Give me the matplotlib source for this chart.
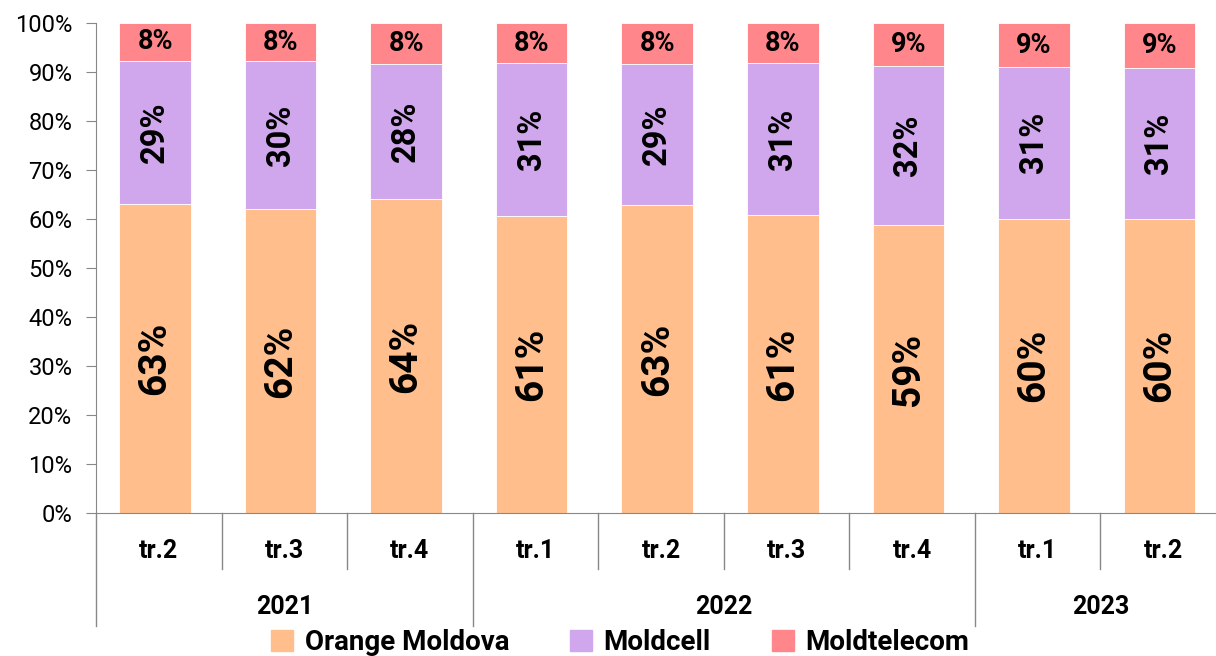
import numpy as np
import matplotlib.pyplot as plt
from matplotlib.patches import Patch
from matplotlib.ticker import PercentFormatter

plt.rcParams['font.family'] = ['Roboto', 'DejaVu Sans']

# data (% share per quarter)
quarters = ['tr.2', 'tr.3', 'tr.4', 'tr.1', 'tr.2', 'tr.3', 'tr.4', 'tr.1', 'tr.2']
years = ['2021', '2022', '2023']
year_sizes = [3, 4, 2]
orange = [63.1, 62.0, 64.1, 60.6, 62.8, 60.8, 58.8, 60.1, 60.1]
moldcell = [29.2, 30.2, 27.6, 31.2, 28.8, 31.0, 32.4, 30.9, 30.8]
moldtelecom = [7.7, 7.8, 8.3, 8.2, 8.4, 8.2, 8.8, 9.0, 9.1]
series = ['Orange Moldova', 'Moldcell', 'Moldtelecom']
colors = ['#FFBE8C', '#D0A6EC', '#FF868A']

W, H = 1216, 656
fig = plt.figure(figsize=(W / 100, H / 100), dpi=100)
# plot area: x from 96 px (spans 9 categories of ~125.6 px), y from 23 to 513 px
ax = fig.add_axes([96 / W, (H - 513) / H, 1130 / W, 490 / H])

x = np.arange(len(quarters)) - 0.03
bottom = np.zeros(len(quarters))
for vals, col, name in zip([orange, moldcell, moldtelecom], colors, series):
    ax.bar(x, vals, width=0.57, bottom=bottom, color=col, edgecolor='white',
           linewidth=0.6, label=name)
    bottom += np.array(vals)

# value labels
for i in range(len(quarters)):
    ax.text(x[i], orange[i] / 2, f'{round(orange[i])}%', rotation=90,
            ha='center', va='center', fontsize=28, fontweight='bold')
    ax.text(x[i], orange[i] + moldcell[i] / 2, f'{round(moldcell[i])}%',
            rotation=90, ha='center', va='center', fontsize=23.5, fontweight='bold')
    ax.text(x[i], orange[i] + moldcell[i] + moldtelecom[i] / 2,
            f'{round(moldtelecom[i])}%', ha='center', va='center',
            fontsize=19.5, fontweight='bold')

ax.set_xlim(-0.5, len(quarters) - 0.5)
ax.set_ylim(0, 100)
ax.set_yticks(np.arange(0, 101, 10))
ax.yaxis.set_major_formatter(PercentFormatter(decimals=0))
ax.tick_params(axis='y', labelsize=17, length=7, color='#888888', pad=10)
ax.set_xticks([])

for side in ['top', 'right']:
    ax.spines[side].set_visible(False)
for side in ['left', 'bottom']:
    ax.spines[side].set_color('#888888')

# two-level category axis
trans = ax.get_xaxis_transform()
q_depth = -(569 - 513) / 490
y_depth = -(626 - 513) / 490
for i, q in enumerate(quarters):
    ax.text(i, -(551 - 513) / 490, q, transform=trans, ha='center',
            va='center', fontsize=18, fontweight='bold')
edges = np.cumsum([0] + year_sizes) - 0.5
for k in range(len(quarters) + 1):
    pos = k - 0.5
    depth = y_depth if pos in edges else q_depth
    ax.plot([pos, pos], [0, depth], transform=trans, color='#888888',
            linewidth=1, clip_on=False)
for yr, a, b in zip(years, edges[:-1], edges[1:]):
    ax.text((a + b) / 2, -(607 - 513) / 490, yr, transform=trans,
            ha='center', va='center', fontsize=18, fontweight='bold')

handles = [Patch(color=c, label=s) for c, s in zip(colors, series)]
fig.legend(handles=handles, loc='center', bbox_to_anchor=(0.51, (H - 643) / H),
           ncol=3, frameon=False, prop={'size': 20, 'weight': 'bold'},
           handlelength=0.8, handleheight=0.8, handletextpad=0.4,
           columnspacing=2.2, borderaxespad=0)

fig.savefig('out.png', dpi=100)
